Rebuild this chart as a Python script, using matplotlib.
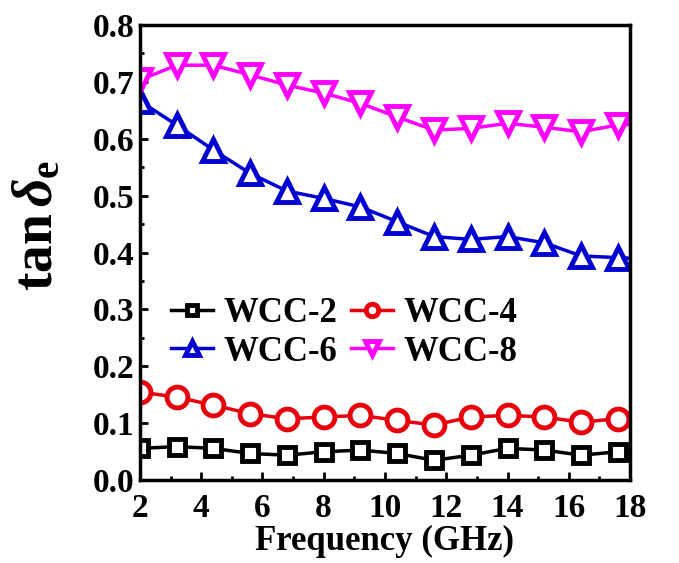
import numpy as np
import matplotlib
matplotlib.use("Agg")
import matplotlib.pyplot as plt
from matplotlib.ticker import MultipleLocator, FormatStrFormatter

# данные (маркеры через 1.2 ГГц + конечная точка 18 ГГц)
freq = [2.0, 3.2, 4.4, 5.6, 6.8, 8.0, 9.2, 10.4, 11.6, 12.8, 14.0, 15.2, 16.4, 17.6, 18.0]
wcc2 = [0.056, 0.059, 0.056, 0.047, 0.044, 0.050, 0.053, 0.047, 0.035, 0.044, 0.056, 0.053, 0.044, 0.050, 0.050]
wcc4 = [0.155, 0.146, 0.132, 0.117, 0.108, 0.111, 0.114, 0.105, 0.097, 0.111, 0.114, 0.111, 0.102, 0.108, 0.108]
wcc6 = [0.666, 0.624, 0.580, 0.539, 0.508, 0.495, 0.480, 0.454, 0.428, 0.423, 0.428, 0.417, 0.394, 0.391, 0.390]
wcc8 = [0.703, 0.729, 0.729, 0.712, 0.694, 0.680, 0.662, 0.638, 0.615, 0.618, 0.627, 0.620, 0.612, 0.624, 0.625]

plt.rcParams['font.family'] = ['Liberation Serif', 'DejaVu Serif']
plt.rcParams['font.weight'] = 'bold'
plt.rcParams['mathtext.fontset'] = 'custom'
plt.rcParams['mathtext.rm'] = 'Liberation Serif:bold'
plt.rcParams['mathtext.it'] = 'Liberation Serif:italic:bold'
plt.rcParams['mathtext.bf'] = 'Liberation Serif:bold'

fig = plt.figure(figsize=(6.79, 5.63), dpi=100)
ax = fig.add_axes([0.206, 0.147, 0.722, 0.809])

series = [
    (wcc2, 'WCC-2', 's', 'black', 12),
    (wcc4, 'WCC-4', 'o', '#e8000b', 15),
    (wcc6, 'WCC-6', '^', '#0000d0', 16),
    (wcc8, 'WCC-8', 'v', '#ff00ff', 16),
]
lines = []
for vals, name, mk, col, ms in series:
    ln, = ax.plot(freq, vals, color=col, lw=2.5, marker=mk, ms=ms, mfc='white',
                  mec=col, mew=3.5, markevery=list(range(14)), label=name)
    lines.append(ln)

ax.set_xlim(2, 18)
ax.set_ylim(0, 0.8)
ax.xaxis.set_major_locator(MultipleLocator(2))
ax.xaxis.set_minor_locator(MultipleLocator(1))
ax.yaxis.set_major_locator(MultipleLocator(0.1))
ax.yaxis.set_minor_locator(MultipleLocator(0.05))
ax.yaxis.set_major_formatter(FormatStrFormatter('%.1f'))
ax.tick_params(which='both', direction='in', width=2, labelsize=24)
ax.tick_params(which='major', length=6)
ax.tick_params(axis='x', which='major', pad=9)
ax.tick_params(axis='y', which='major', pad=4)
ax.tick_params(which='minor', length=3)
for sp in ax.spines.values():
    sp.set_linewidth(2.5)

ax.set_xlabel('Frequency (GHz)', fontsize=25, fontweight='bold', labelpad=1)
ax.set_ylabel(r'$\mathrm{tan}\,\delta_{\mathrm{e}}$', fontsize=40)
ax.yaxis.set_label_coords(-0.155, 0.56)

# порядок: строка 1 — WCC-2, WCC-4; строка 2 — WCC-6, WCC-8
order = [lines[0], lines[2], lines[1], lines[3]]
ax.legend(order, [l.get_label() for l in order], loc='upper left',
          bbox_to_anchor=(0.0, 0.47), ncol=2, frameon=False,
          fontsize=25, markerscale=0.6, handlelength=1.2, handletextpad=0.3,
          columnspacing=0.4, labelspacing=0.15)

fig.savefig('out.png', dpi=100)
